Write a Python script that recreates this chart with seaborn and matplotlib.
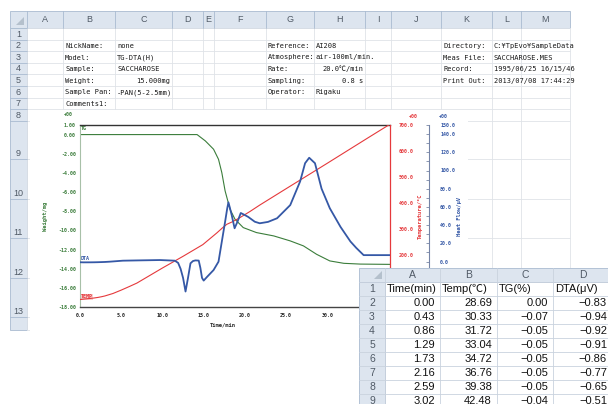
import matplotlib
matplotlib.use("Agg")
import matplotlib.pyplot as plt
import seaborn as sns
from matplotlib.patches import Rectangle, Polygon

# --- data ---
# TG (weight, mg)
time_tg = [0, 14.2, 15.2, 16.2, 16.8, 17.2, 17.6, 18.2, 18.8, 19.8, 21.4, 23.5,
           25.5, 27.1, 28.7, 30.3, 32.0, 34.0, 37.6]
tg_mg = [0, 0, -0.66, -1.53, -2.58, -3.97, -5.88, -7.80, -8.84, -9.71, -10.23,
         -10.58, -11.10, -11.62, -12.50, -13.19, -13.44, -13.52, -13.55]

# temperature, degC
time_temp = [0, 0.43, 0.86, 1.29, 1.73, 2.16, 2.59, 3.02, 4.0, 5.0, 6.0, 6.9, 10.0,
             12.5, 14.9, 16.6, 17.3, 17.8, 18.5, 19.2, 20.6, 21.8, 25.0, 30.0, 35.0, 37.6]
temp_c = [28.69, 30.33, 31.72, 33.04, 34.72, 36.76, 39.38, 42.48, 52, 65, 79, 92, 150,
          195, 240, 285, 305, 318, 328, 340, 367, 392, 455, 553, 652, 703]

# DTA, microvolt
time_dta = [0, 0.43, 0.86, 1.29, 1.73, 2.16, 2.59, 3.02, 3.6, 5.2, 7.0, 9.7, 11.5,
            11.9, 12.2, 12.5, 12.8, 13.1, 13.4, 13.7, 14.0, 14.4, 14.6, 14.8, 15.0,
            15.4, 16.2, 16.8, 17.2, 17.6, 17.85, 18.0, 18.15, 18.4, 18.75, 19.1, 19.5,
            20.0, 20.4, 21.2, 21.8, 22.8, 23.9, 25.5, 26.7, 27.3, 27.8, 28.5, 29.3,
            30.3, 31.6, 32.8, 33.5, 34.4, 37.6]
dta_uv = [-0.83, -0.94, -0.92, -0.91, -0.86, -0.77, -0.65, -0.51, -0.2, 0.9, 1.2, 1.6,
          0.9, -1.5, -8, -18, -33, -18, -2, 0.5, 1.2, 1.0, -7, -18, -21, -17, -9.4, -0.2,
          21.8, 43.7, 58, 65, 60, 51, 36.5, 43.7, 53.3, 51, 49, 43.7, 42, 43.5, 47.5, 62,
          88, 108, 114, 108, 80, 58.5, 38, 22, 15, 7, 7]

tg_ticks = [1, 0, -2, -4, -6, -8, -10, -12, -14, -16, -18]
temp_ticks = [0, 100, 200, 300, 400, 500, 600, 700]
dta_ticks = [150, 140, 120, 100, 80, 60, 40, 20, 0, -20, -40]
time_ticks = [0, 5, 10, 15, 20, 25, 30, 35]

# sheet cells
col_names = ["A", "B", "C", "D", "E", "F", "G", "H", "I", "J", "K", "L", "M"]
info_left = [("NickName:", "none"), ("Model:", "TG-DTA(H)"), ("Sample:", "SACCHAROSE"),
             ("Weight:", "15.000mg"), ("Sample Pan:", "-PAN(5-2.5mm)"), ("Comments1:", "")]
info_mid = [("Reference:", "AI208"), ("Atmosphere:", "air-100ml/min."), ("Rate:", "20.0℃/min"),
            ("Sampling:", "0.8 s"), ("Operator:", "Rigaku")]
info_right = [("Directory:", "C:¥TpEvo¥SampleData"), ("Meas File:", "SACCHAROSE.MES"),
              ("Record:", "1995/06/25 16/15/46"), ("Print Out:", "2013/07/08 17:44:29")]

# pasted table
tab_cols = ["A", "B", "C", "D"]
tab_head = ["Time(min)", "Temp(℃)", "TG(%)", "DTA(μV)"]
tab_time = [0.00, 0.43, 0.86, 1.29, 1.73, 2.16, 2.59, 3.02]
tab_temp = [28.69, 30.33, 31.72, 33.04, 34.72, 36.76, 39.38, 42.48]
tab_tg = [0.00, -0.07, -0.05, -0.05, -0.05, -0.05, -0.05, -0.04]
tab_dta = [-0.83, -0.94, -0.92, -0.91, -0.86, -0.77, -0.65, -0.51]

sns.set_style("white")
plt.rcParams['font.family'] = ['DejaVu Sans', 'Noto Sans CJK JP']

W, H = 608, 404
fig = plt.figure(figsize=(W / 100, H / 100), dpi=100)

green = "#3b7d3b"
red = "#e5393c"
blue = "#3558a6"
hdr_bg = "#dde5ef"
hdr_line = "#a9bbd0"
grid_c = "#dfe3e8"
mono = ['DejaVu Sans Mono', 'Noto Sans CJK JP']

# ---------------- spreadsheet background ----------------
bg = fig.add_axes([0, 0, 1, 1])
bg.set_xlim(0, W)
bg.set_ylim(H, 0)
bg.axis('off')

col_x = [10, 27, 63, 115, 172, 203, 214, 266, 314, 365, 391, 441, 492, 521, 570]
row_y = [11, 28, 39.6, 51.2, 62.8, 74.4, 86, 97.6, 109.2, 121, 159, 199, 238, 278, 317, 330]

for y in row_y[1:]:
    bg.plot([col_x[1], col_x[-1]], [y, y], color=grid_c, lw=0.6)
for x in col_x[1:]:
    bg.plot([x, x], [row_y[1], row_y[-1]], color=grid_c, lw=0.6)

bg.add_patch(Rectangle((col_x[0], row_y[0]), col_x[-1] - col_x[0], row_y[1] - row_y[0],
                       fc=hdr_bg, ec=hdr_line, lw=0.6))
bg.add_patch(Rectangle((col_x[0], row_y[1]), col_x[1] - col_x[0], row_y[-1] - row_y[1],
                       fc=hdr_bg, ec=hdr_line, lw=0.6))
bg.add_patch(Polygon([[col_x[1] - 3, row_y[1] - 11], [col_x[1] - 3, row_y[1] - 3],
                      [col_x[1] - 11, row_y[1] - 3]], fc="#b4c0cc", ec='none'))
for i, name in enumerate(col_names):
    x0, x1 = col_x[i + 1], col_x[i + 2]
    bg.plot([x0, x0], [row_y[0], row_y[1]], color=hdr_line, lw=0.6)
    bg.text((x0 + x1) / 2, (row_y[0] + row_y[1]) / 2 + 0.5, name, ha='center', va='center',
            fontsize=6.5, color="#505a66", family='Liberation Sans')
for r in range(13):
    y0, y1 = row_y[r + 1], row_y[r + 2]
    bg.plot([col_x[0], col_x[1]], [y1, y1], color=hdr_line, lw=0.6)
    bg.text((col_x[0] + col_x[1]) / 2, y1 - 1, str(r + 1), ha='center', va='bottom',
            fontsize=6.5, color="#505a66", family='Liberation Sans')

# white chart area covering the cells
bg.add_patch(Rectangle((30, 109.6), 438, 221, fc='white', ec='none', zorder=3))


def cell_text(col, row, s, right=False):
    y = (row_y[row] + row_y[row + 1]) / 2 + 0.5
    if right:
        bg.text(col_x[col + 2] - 2, y, s, ha='right', va='center', fontsize=5.0,
                family=mono, color="#1a1a1a")
    else:
        bg.text(col_x[col + 1] + 2, y, s, ha='left', va='center', fontsize=5.0,
                family=mono, color="#1a1a1a")


for i, (k, v) in enumerate(info_left):
    cell_text(1, i + 2, k)
    if v:
        cell_text(2, i + 2, v, right=(k == "Weight:"))
for i, (k, v) in enumerate(info_mid):
    cell_text(6, i + 2, k)
    cell_text(7, i + 2, v, right=(k in ("Rate:", "Sampling:")))
for i, (k, v) in enumerate(info_right):
    cell_text(10, i + 2, k)
    cell_text(11, i + 2, v)

# axis markers and series tags drawn on the sheet
tiny = dict(family=mono, fontsize=3.6, fontweight='bold')
bg.text(68, 114, "+00", color=green, ha='center', va='center', zorder=4, **tiny)
bg.text(413, 116, "+00", color=red, ha='center', va='center', zorder=4, **tiny)
bg.text(443, 116, "+00", color=blue, ha='center', va='center', zorder=4, **tiny)
bg.text(81, 128, "TG", color=green, ha='left', va='center', zorder=4, **tiny)
bg.text(81, 258, "DTA", color=blue, ha='left', va='center', zorder=4, **tiny)
bg.text(81, 297, "TEMP", color=red, ha='left', va='center', zorder=4,
        bbox=dict(fc="#f7d0d0", ec='none', pad=0.3), **tiny)

# ---------------- chart ----------------
ax = fig.add_axes([80 / W, (H - 307) / H, 310 / W, 182 / H])
ax.patch.set_alpha(0)
sns.lineplot(x=time_tg, y=tg_mg, ax=ax, color=green, lw=0.8)
ax.set_xlim(0, 37.6)
ax.set_ylim(-18, 1)
ax.set_yticks(tg_ticks, labels=[f"{v:.2f}" for v in tg_ticks])
ax.set_xticks(time_ticks, labels=[f"{v:.1f}" for v in time_ticks])
ax.tick_params(axis='y', length=0, pad=3, labelsize=3.6, labelcolor=green)
ax.tick_params(axis='x', length=2, width=0.5, pad=2, labelsize=3.6, direction='out',
               color="#444444")
for lab in ax.get_xticklabels() + ax.get_yticklabels():
    lab.set_family(mono)
    lab.set_fontweight('bold')
ax.set_xlabel("Time/min", family=mono, fontsize=4, fontweight='bold')
ax.xaxis.set_label_coords(0.46, -0.085)
ax.set_ylabel("Weight/mg", family=mono, fontsize=4, fontweight='bold', color=green)
ax.yaxis.set_label_coords(-0.103, 0.5)
ax.spines['top'].set_color("#333333")
ax.spines['top'].set_linewidth(1.0)
ax.spines['bottom'].set_color("#444444")
ax.spines['bottom'].set_linewidth(1.0)
ax.spines['left'].set_color("#a8c0a8")
ax.spines['left'].set_linewidth(0.8)
ax.spines['right'].set_visible(False)

ax_t = ax.twinx()
sns.lineplot(x=time_temp, y=temp_c, ax=ax_t, color=red, lw=0.8)
ax_t.set_ylim(0, 700)
ax_t.set_yticks(temp_ticks, labels=[f"{v:.1f}" for v in temp_ticks])
ax_t.tick_params(axis='y', length=0, pad=6, labelsize=3.6, labelcolor=red)
for lab in ax_t.get_yticklabels():
    lab.set_family(mono)
    lab.set_fontweight('bold')
ax_t.set_ylabel("Temperature/°C", family=mono, fontsize=4, fontweight='bold', color=red)
ax_t.yaxis.set_label_coords((418 - 80) / 310, 0.5)
for s in ('top', 'bottom', 'left'):
    ax_t.spines[s].set_visible(False)
ax_t.spines['right'].set_color(red)
ax_t.spines['right'].set_linewidth(0.9)

ax_d = ax.twinx()
ax_d.spines['right'].set_position(('axes', 1 + 39 / 310))
sns.lineplot(x=time_dta, y=dta_uv, ax=ax_d, color=blue, lw=1.3)
ax_d.set_ylim(-50, 150)
ax_d.set_yticks(dta_ticks, labels=[f"{v:.1f}" for v in dta_ticks])
ax_d.set_yticks([v - 10 for v in dta_ticks[1:]] + [-50], minor=True)
ax_d.tick_params(axis='y', which='both', direction='in', length=2.5, width=0.5,
                 color="#5d6f94", pad=8, labelsize=3.6, labelcolor=blue)
for lab in ax_d.get_yticklabels():
    lab.set_family(mono)
    lab.set_fontweight('bold')
ax_d.set_ylabel("Heat Flow/μV", family=mono, fontsize=4, fontweight='bold', color=blue)
ax_d.yaxis.set_label_coords((457 - 80) / 310, 0.5)
for s in ('top', 'bottom', 'left'):
    ax_d.spines[s].set_visible(False)
ax_d.spines['right'].set_color("#7584a6")
ax_d.spines['right'].set_linewidth(0.8)

# ---------------- pasted table on top ----------------
tb = fig.add_axes([0, 0, 1, 1], zorder=10)
tb.set_xlim(0, W)
tb.set_ylim(H, 0)
tb.axis('off')
tcol = [359, 385, 440, 497, 553, 612]
trow = [268, 282, 296, 310, 324, 338, 352, 366, 380, 394, 408]
tb.add_patch(Rectangle((tcol[0], trow[0]), W - tcol[0], H - trow[0], fc='white', ec='none'))
tb.add_patch(Rectangle((tcol[0], trow[0]), tcol[-1] - tcol[0], trow[1] - trow[0],
                       fc=hdr_bg, ec=hdr_line, lw=0.6))
tb.add_patch(Rectangle((tcol[0], trow[1]), tcol[1] - tcol[0], trow[-1] - trow[1],
                       fc=hdr_bg, ec=hdr_line, lw=0.6))
tb.add_patch(Polygon([[tcol[1] - 3, trow[1] - 11], [tcol[1] - 3, trow[1] - 3],
                      [tcol[1] - 11, trow[1] - 3]], fc="#b4c0cc", ec='none'))
for x in tcol[1:]:
    tb.plot([x, x], [trow[0], trow[-1]], color="#c9d2de", lw=0.6)
for y in trow[1:]:
    tb.plot([tcol[0], tcol[-1]], [y, y], color="#c9d2de", lw=0.6)
for i, name in enumerate(tab_cols):
    tb.text((tcol[i + 1] + tcol[i + 2]) / 2, (trow[0] + trow[1]) / 2, name, ha='center',
            va='center', fontsize=7.5, color="#505a66", family='Liberation Sans')
for r in range(9):
    tb.text((tcol[0] + tcol[1]) / 2, (trow[r + 1] + trow[r + 2]) / 2, str(r + 1),
            ha='center', va='center', fontsize=7.5, color="#505a66", family='Liberation Sans')
tfont = ['Liberation Sans', 'Noto Sans CJK JP']
for i, h in enumerate(tab_head):
    tb.text(tcol[i + 1] + 2, (trow[1] + trow[2]) / 2, h, ha='left', va='center',
            fontsize=8, family=tfont, color="#111111")
for r in range(len(tab_time)):
    yc = (trow[r + 2] + trow[r + 3]) / 2
    for c, v in enumerate([tab_time[r], tab_temp[r], tab_tg[r], tab_dta[r]]):
        s = f"{v:.2f}".replace("-", "−")
        tb.text(tcol[c + 2] - 5, yc, s, ha='right', va='center', fontsize=8,
                family=tfont, color="#111111")

fig.savefig("out.png", dpi=100)
